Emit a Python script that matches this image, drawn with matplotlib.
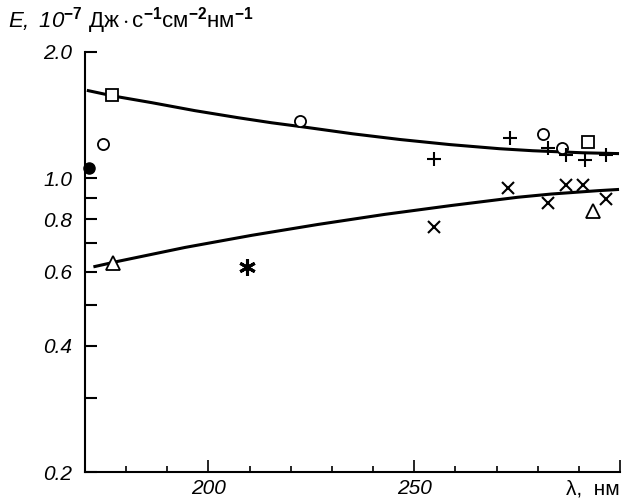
import matplotlib.pyplot as plt
from matplotlib.ticker import FixedLocator, NullFormatter

plt.rcParams['font.family'] = ['Liberation Sans', 'DejaVu Sans']
plt.rcParams['font.style'] = 'italic'
plt.rcParams['mathtext.fontset'] = 'custom'
plt.rcParams['mathtext.rm'] = 'Liberation Sans:roman'
plt.rcParams['mathtext.it'] = 'Liberation Sans:italic'
plt.rcParams['mathtext.sf'] = 'Liberation Sans:italic'
plt.rcParams['mathtext.bf'] = 'Liberation Sans:bold:roman'

# fitted curves
upper_x = [170.8, 176.9, 186.2, 196.7, 207.2, 215.3, 222.6, 235.1, 246.5,
           258.6, 270.7, 278.8, 290.9, 299.4]
upper_y = [1.618, 1.571, 1.515, 1.450, 1.395, 1.357, 1.328, 1.277, 1.238,
           1.204, 1.177, 1.164, 1.151, 1.146]
lower_x = [172.4, 178.1, 194.3, 210.5, 226.6, 242.8, 259.0, 275.2, 283.3, 294.6, 299.4]
lower_y = [0.617, 0.635, 0.685, 0.732, 0.777, 0.821, 0.862, 0.902, 0.918, 0.935, 0.941]

# measured points, by symbol
square_x = [176.6, 292.3]
square_y = [1.58, 1.22]
circle_x = [174.4, 222.2, 281.2, 286.0]
circle_y = [1.21, 1.37, 1.276, 1.18]
dot_x = [171.0]
dot_y = [1.06]
plus_x = [254.7, 273.2, 282.4, 287.0, 291.6, 296.7]
plus_y = [1.11, 1.246, 1.18, 1.135, 1.107, 1.139]
cross_x = [254.7, 272.7, 282.6, 287.0, 291.1, 296.7]
cross_y = [0.766, 0.948, 0.874, 0.964, 0.964, 0.894]
tri_x = [176.8, 293.5]
tri_y = [0.63, 0.836]
star_x = [209.3]
star_y = [0.615]

fig = plt.figure(figsize=(6.27, 4.98), dpi=100)
ax = fig.add_axes([0.1356, 0.0522, 0.8532, 0.8434])

ax.plot(upper_x, upper_y, 'k-', lw=2.2)
ax.plot(lower_x, lower_y, 'k-', lw=2.2)

ax.plot(square_x, square_y, 's', ms=8.5, mfc='white', mec='k', mew=1.3)
ax.plot(circle_x, circle_y, 'o', ms=8, mfc='white', mec='k', mew=1.3)
ax.plot(dot_x, dot_y, 'o', ms=8, mfc='k', mec='k', clip_on=False)
ax.plot(plus_x, plus_y, '+', ms=10, mec='k', mew=1.5)
ax.plot(cross_x, cross_y, 'x', ms=9, mec='k', mew=1.5)
ax.plot(tri_x, tri_y, '^', ms=10, mfc='white', mec='k', mew=1.3)
ax.plot(star_x, star_y, marker=(6, 2, 0), ms=12, mec='k', mew=2.2, ls='none')

ax.set_yscale('log')
ax.set_xlim(170, 300)
ax.set_ylim(0.2, 2.0)

for s in ['top', 'right']:
    ax.spines[s].set_visible(False)
for s in ['left', 'bottom']:
    ax.spines[s].set_linewidth(1.5)

ax.yaxis.set_major_locator(FixedLocator([0.2, 0.4, 0.6, 0.8, 1.0, 2.0]))
ax.yaxis.set_minor_locator(FixedLocator([0.3, 0.5, 0.7, 0.9]))
ax.yaxis.set_minor_formatter(NullFormatter())
ax.set_yticklabels(['0.2', '0.4', '0.6', '0.8', '1.0', '2.0'], fontsize=15, fontstyle='italic')

ax.xaxis.set_major_locator(FixedLocator([200, 250, 300]))
ax.xaxis.set_minor_locator(FixedLocator([180, 190, 210, 220, 230, 240, 260, 270, 280, 290]))
ax.set_xticklabels(['200', '250', ''], fontsize=15, fontstyle='italic')

ax.tick_params(axis='y', which='both', direction='in', length=8.5, width=1.5, pad=9)
ax.tick_params(axis='x', which='major', direction='in', length=8.5, width=1.2, pad=5)
ax.tick_params(axis='x', which='minor', direction='in', length=4.5, width=1.2)

fig.text(8 / 627, 1 - 28 / 498,
         r'$\mathsf{E,\ 10}^{\mathbf{-7}}\ \mathrm{Дж\cdot с}^{\mathbf{-1}}\mathrm{см}^{\mathbf{-2}}\mathrm{нм}^{\mathbf{-1}}$',
         fontsize=16, ha='left', va='baseline')
fig.text(620 / 627, 1 - 494 / 498, 'λ,  нм', fontsize=15, fontstyle='normal',
         ha='right', va='baseline')

plt.savefig('out.png', dpi=100)
